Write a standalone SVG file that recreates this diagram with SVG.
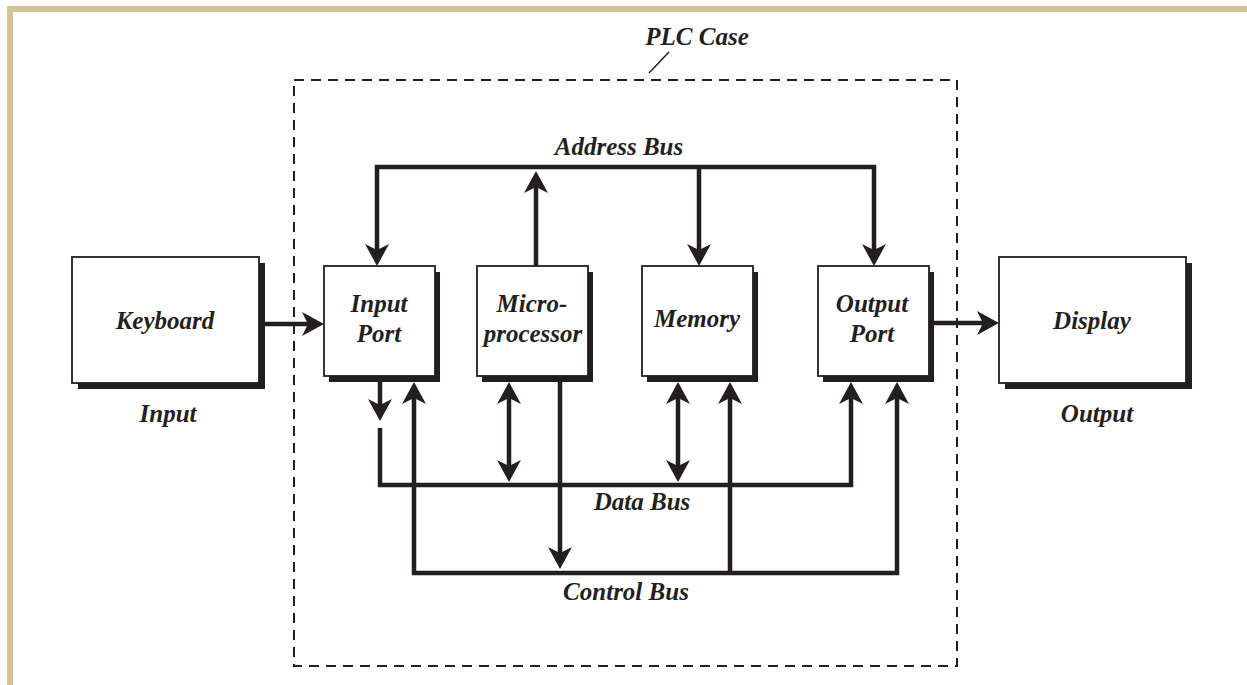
<svg xmlns="http://www.w3.org/2000/svg" width="1247" height="685" viewBox="0 0 1247 685">
<style>
.t{font-family:"Liberation Serif","Times New Roman",serif;font-weight:bold;font-style:italic;font-size:25px;fill:#231f20;text-anchor:middle}
.box{fill:#fff;stroke:#231f20;stroke-width:1.8}
.sh{fill:#231f20}
.ln{fill:none;stroke:#231f20;stroke-width:4.5;stroke-linejoin:miter;stroke-linecap:butt}
.ae{marker-end:url(#ah)}
.as{marker-start:url(#ah)}
</style>
<defs>
<marker id="ah" viewBox="0 0 22 24" refX="14" refY="12" markerWidth="22" markerHeight="24" markerUnits="userSpaceOnUse" orient="auto-start-reverse">
<path d="M0,0 L22,12 L0,24 L6,12 Z" fill="#231f20"/>
</marker>
</defs>
<rect width="1247" height="685" fill="#fff"/>
<g id="frame" fill="#d4c397">
<rect x="7" y="6" width="1240" height="6"/>
<rect x="7" y="6" width="6" height="679"/>
</g>
<g id="plc-case">
<rect x="294" y="80" width="663" height="586" fill="none" stroke="#231f20" stroke-width="2" stroke-dasharray="10 7"/>
<line x1="669" y1="52" x2="649" y2="73" stroke="#231f20" stroke-width="1.5"/>
<text class="t" x="697" y="45">PLC Case</text>
</g>
<g id="keyboard">
<rect class="sh" x="78" y="263" width="187" height="126"/>
<rect class="box" x="72" y="257" width="187" height="126"/>
<text class="t" x="165" y="329">Keyboard</text>
<text class="t" x="168" y="422">Input</text>
</g>
<g id="input-port">
<rect class="sh" x="329" y="272" width="111" height="110"/>
<rect class="box" x="324" y="266" width="111" height="110"/>
<text class="t" x="379" y="312">Input</text>
<text class="t" x="379" y="342">Port</text>
</g>
<g id="microprocessor">
<rect class="sh" x="482" y="272" width="111" height="110"/>
<rect class="box" x="477" y="266" width="111" height="110"/>
<text class="t" x="532" y="312">Micro-</text>
<text class="t" x="533" y="342">processor</text>
</g>
<g id="memory">
<rect class="sh" x="647" y="272" width="111" height="110"/>
<rect class="box" x="642" y="266" width="111" height="110"/>
<text class="t" x="697" y="327">Memory</text>
</g>
<g id="output-port">
<rect class="sh" x="823" y="272" width="111" height="110"/>
<rect class="box" x="818" y="266" width="111" height="110"/>
<text class="t" x="872" y="312">Output</text>
<text class="t" x="872" y="342">Port</text>
</g>
<g id="display">
<rect class="sh" x="1005" y="263" width="187" height="126"/>
<rect class="box" x="999" y="257" width="187" height="126"/>
<text class="t" x="1092" y="329">Display</text>
<text class="t" x="1097" y="422">Output</text>
</g>
<g id="connectors">
<path class="ln ae" d="M259,324 H316"/>
<path class="ln ae" d="M929,323 H991"/>
<path class="ln as ae" d="M377,258 V167 H874 V258"/>
<path class="ln ae" d="M699,167 V258"/>
<path class="ln ae" d="M536,266 V179"/>
<path class="ln ae" d="M380,376 V413"/>
<path class="ln ae" d="M380,428 V485 H851 V390"/>
<path class="ln as ae" d="M509,390 V474"/>
<path class="ln as ae" d="M678,390 V474"/>
<path class="ln as ae" d="M414,390 V573 H897 V390"/>
<path class="ln ae" d="M560,376 V561"/>
<path class="ln ae" d="M730,573 V390"/>
</g>
<g id="bus-labels">
<text class="t" x="619" y="155">Address Bus</text>
<text class="t" x="642" y="510">Data Bus</text>
<text class="t" x="626" y="600">Control Bus</text>
</g>
</svg>
